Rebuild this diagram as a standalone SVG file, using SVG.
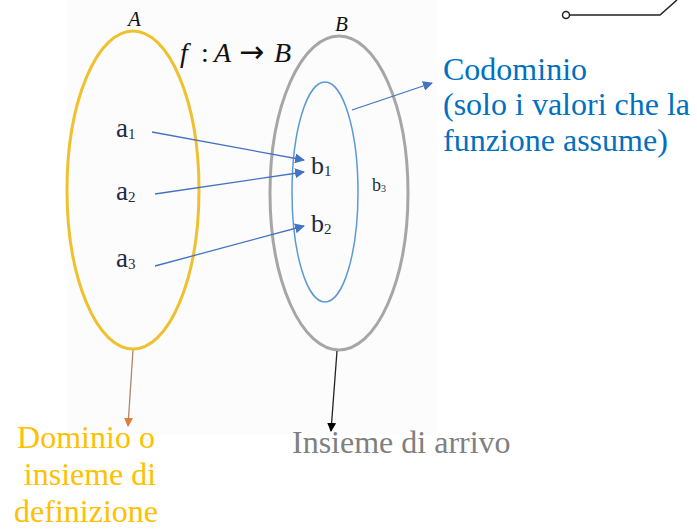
<svg xmlns="http://www.w3.org/2000/svg" width="697" height="529" viewBox="0 0 697 529">
<defs>
<marker id="mb" viewBox="0 0 10 10" refX="9" refY="5" markerWidth="10" markerHeight="10" markerUnits="userSpaceOnUse" orient="auto"><path d="M0,0 L10,5 L0,10 z" fill="#4472c4"/></marker>
<marker id="mo" viewBox="0 0 10 10" refX="9" refY="5" markerWidth="9" markerHeight="9" markerUnits="userSpaceOnUse" orient="auto"><path d="M0,0 L10,5 L0,10 z" fill="#e07b39"/></marker>
<marker id="mk" viewBox="0 0 10 10" refX="9" refY="5" markerWidth="9" markerHeight="9" markerUnits="userSpaceOnUse" orient="auto"><path d="M0,0 L10,5 L0,10 z" fill="#000"/></marker>
</defs>
<rect width="697" height="529" fill="#fff"/>
<rect x="67" y="0" width="370" height="434" fill="#fcfcfc"/>

<g id="corner">
<circle cx="566" cy="15" r="3.5" fill="#fff" stroke="#222" stroke-width="1.5"/>
<path d="M569.5,15 L660,15 L677,0" fill="none" stroke="#222" stroke-width="1.5"/>
</g>

<g id="setA" font-family="Liberation Serif, serif">
<ellipse cx="133" cy="190" rx="66" ry="159" fill="none" stroke="#efc12f" stroke-width="3"/>
<text x="128" y="26" font-size="21" font-style="italic" fill="#111">A</text>
<text x="116" y="137" font-size="27" fill="#1f2a44">a<tspan font-size="15" dy="2">1</tspan></text>
<text x="116" y="200" font-size="27" fill="#1f2a44">a<tspan font-size="15" dy="2">2</tspan></text>
<text x="116" y="267" font-size="27" fill="#1f2a44">a<tspan font-size="15" dy="2">3</tspan></text>
</g>

<g id="setB" font-family="Liberation Serif, serif">
<ellipse cx="339" cy="193" rx="69" ry="157" fill="none" stroke="#a6a6a6" stroke-width="3"/>
<text x="335" y="31" font-size="21" font-style="italic" fill="#111">B</text>
<text x="372" y="191" font-size="18" fill="#1f2a44">b<tspan font-size="10" dy="1">3</tspan></text>
</g>

<g id="codomain" font-family="Liberation Serif, serif">
<ellipse cx="325" cy="192" rx="33" ry="110" fill="none" stroke="#5b9bd5" stroke-width="1.5"/>
<text x="311" y="174" font-size="26" fill="#1f2a44">b<tspan font-size="15" dy="2">1</tspan></text>
<text x="311" y="232" font-size="26" fill="#1f2a44">b<tspan font-size="15" dy="2">2</tspan></text>
</g>

<g id="title" font-family="Liberation Serif, serif">
<text y="62" font-size="28" fill="#111"><tspan x="180" font-style="italic">f</tspan><tspan x="201">:</tspan><tspan x="214" font-style="italic">A</tspan><tspan x="239" font-family="DejaVu Sans, sans-serif" font-size="30">→</tspan><tspan x="274" font-style="italic">B</tspan></text>
</g>

<g id="label-codominio" font-family="Liberation Serif, serif" font-size="32" fill="#0070c0">
<text x="443" y="80">Codominio</text>
<text x="443" y="115">(solo i valori che la</text>
<text x="443" y="151">funzione assume)</text>
</g>

<g id="label-dominio" font-family="Liberation Serif, serif" font-size="32" fill="#ffc000" text-anchor="middle">
<text x="86" y="448">Dominio o</text>
<text x="90" y="485">insieme di</text>
<text x="86" y="522">definizione</text>
</g>

<g id="label-arrivo" font-family="Liberation Serif, serif" font-size="32" fill="#808080">
<text x="292" y="453">Insieme di arrivo</text>
</g>

<g id="connectors" fill="none" stroke-width="1.3">
<line x1="152" y1="132" x2="304" y2="160" stroke="#4472c4" marker-end="url(#mb)"/>
<line x1="155" y1="194" x2="304" y2="172" stroke="#4472c4" marker-end="url(#mb)"/>
<line x1="155" y1="266" x2="304" y2="226" stroke="#4472c4" marker-end="url(#mb)"/>
<line x1="352" y1="110" x2="432" y2="83" stroke="#4472c4" marker-end="url(#mb)"/>
<line x1="133" y1="350" x2="128" y2="426" stroke="#b0866a" marker-end="url(#mo)"/>
<line x1="337" y1="351" x2="331" y2="431" stroke="#222" marker-end="url(#mk)"/>
</g>
</svg>
